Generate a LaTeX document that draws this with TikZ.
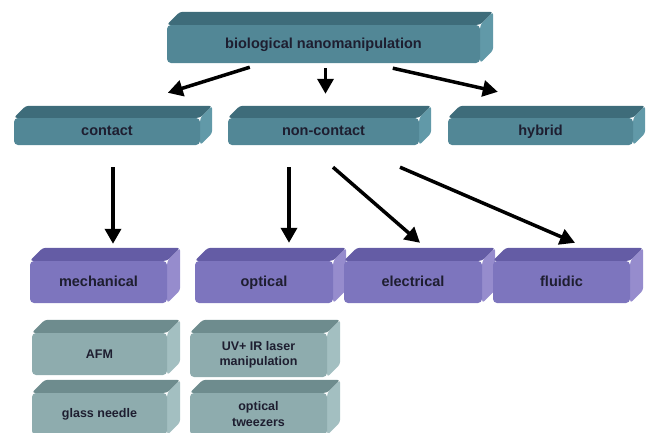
\documentclass[tikz,border=0pt]{standalone}
\usepackage{fontspec}
\setmainfont{Liberation Sans}
\usetikzlibrary{arrows.meta,calc,backgrounds}
\definecolor{tealF}{HTML}{528796}
\definecolor{tealT}{HTML}{3E6C7A}
\definecolor{tealS}{HTML}{6199A8}
\definecolor{purF}{HTML}{7D75BE}
\definecolor{purT}{HTML}{645CA5}
\definecolor{purS}{HTML}{968CCD}
\definecolor{leafF}{HTML}{8EACAE}
\definecolor{leafT}{HTML}{6E8C8E}
\definecolor{leafS}{HTML}{A3BFC1}
\definecolor{txt}{HTML}{1E1E30}
\tikzset{
  boxbase/.style={rectangle, rounded corners=4pt, inner sep=0pt, text=txt, align=center},
  bigtext/.style={font=\bfseries\fontsize{14.5}{16}\selectfont, text height=10.5pt, text depth=2pt},
  smalltext/.style={font=\bfseries\fontsize{12.5}{15.5}\selectfont},
  tealbox/.style={boxbase, bigtext, fill=tealF},
  purbox/.style={boxbase, bigtext, fill=purF},
  leafbox/.style={boxbase, smalltext, fill=leafF},
  arr/.style={line width=3.5pt, -{Triangle[length=15pt,width=16pt]}},
}
\newcommand{\boxfaces}[4]{%
  \begin{pgfonlayer}{background}
    \fill[#2, rounded corners=3pt] (#1.north west) -- ++(#4,-#4) -- ($(#1.north east)+(#4,-#4)$) -- (#1.north east) -- cycle;
    \fill[#3, rounded corners=3pt] (#1.north east) -- ++(#4,-#4) -- ($(#1.south east)+(#4,-#4)$) -- (#1.south east) -- cycle;
  \end{pgfonlayer}}
\begin{document}
\begin{tikzpicture}[x=1pt,y=-1pt]
\useasboundingbox (0,0) rectangle (649,432);
\clip (0,0) rectangle (649,432);
% top level
\node[tealbox, minimum width=313pt, minimum height=38pt] (bio) at (323.5,44) {biological nanomanipulation};
\boxfaces{bio}{tealT}{tealS}{13}
% second level
\node[tealbox, minimum width=186pt, minimum height=27pt] (contact) at (107,131.5) {contact};
\node[tealbox, minimum width=191pt, minimum height=27pt] (nc) at (323.5,131.5) {non-contact};
\node[tealbox, minimum width=185pt, minimum height=27pt] (hybrid) at (540.5,131.5) {hybrid};
\boxfaces{contact}{tealT}{tealS}{12}
\boxfaces{nc}{tealT}{tealS}{12}
\boxfaces{hybrid}{tealT}{tealS}{12}
% third level
\node[purbox, minimum width=137pt, minimum height=42pt] (mech) at (98.5,282) {mechanical};
\node[purbox, minimum width=138pt, minimum height=42pt] (opt) at (264,282) {optical};
\node[purbox, minimum width=138pt, minimum height=42pt] (elec) at (413,282) {electrical};
\node[purbox, minimum width=137pt, minimum height=42pt] (flu) at (561.5,282) {fluidic};
\boxfaces{mech}{purT}{purS}{13}
\boxfaces{opt}{purT}{purS}{13}
\boxfaces{elec}{purT}{purS}{13}
\boxfaces{flu}{purT}{purS}{13}
% leaves
\node[leafbox, minimum width=135pt, minimum height=42pt] (afm) at (99.5,354) {AFM};
\node[leafbox, minimum width=135pt, minimum height=42pt] (glass) at (99.5,414) {glass needle};
\node[leafbox, minimum width=137pt, minimum height=44pt] (uv) at (258.5,355) {UV+ IR laser\\manipulation};
\node[leafbox, minimum width=137pt, minimum height=42pt] (tw) at (258.5,414) {optical\\tweezers};
\boxfaces{afm}{leafT}{leafS}{13}
\boxfaces{glass}{leafT}{leafS}{13}
\boxfaces{uv}{leafT}{leafS}{13}
\boxfaces{tw}{leafT}{leafS}{13}
% arrows
\draw[arr] ($(bio.south west)+(83,4)$) -- ($(contact.north west)+(154,-25)$);
\draw[arr] ($(bio.south)+(2,5)$) -- ($(nc.north)+(2,-24)$);
\draw[arr] ($(bio.south west)+(226,5)$) -- ($(hybrid.north west)+(50,-26)$);
\draw[arr] ($(contact.south)+(6,22)$) -- ($(mech.north)+(14.5,-17)$);
\draw[arr] ($(nc.south)+(-34.5,22)$) -- ($(opt.north)+(25,-18)$);
\draw[arr] ($(nc.south)+(9.5,22)$) -- ($(elec.north)+(7,-18)$);
\draw[arr] ($(nc.south)+(76.5,22)$) -- ($(flu.north)+(13.5,-18)$);
\end{tikzpicture}
\end{document}
